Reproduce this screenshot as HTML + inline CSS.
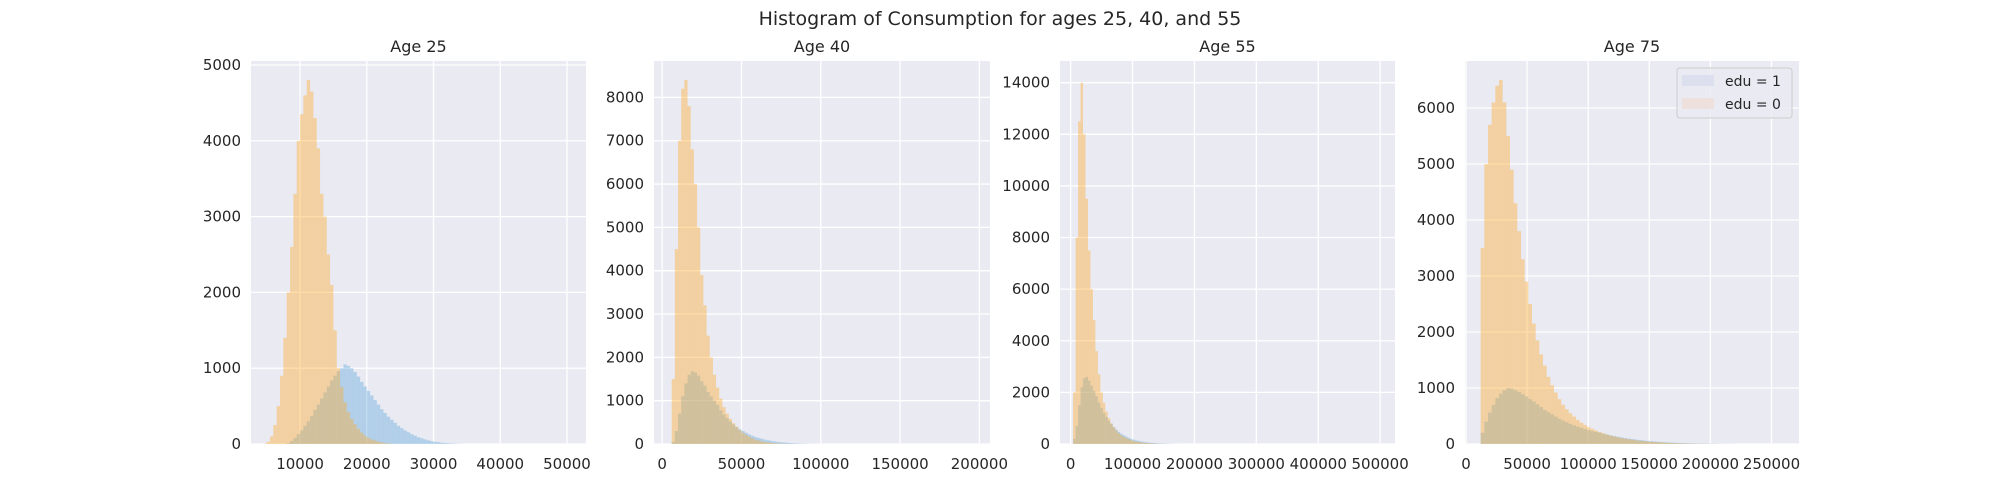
<!DOCTYPE html>
<html><head><meta charset="utf-8">
<style>
html,body{margin:0;padding:0;background:#fff;}
svg{display:block;font-family:"DejaVu Sans","Liberation Sans",sans-serif;}
</style></head>
<body>
<svg id="chart" width="2000" height="500">
<text x="1000" y="25" text-anchor="middle" font-size="19" fill="#262626">Histogram of Consumption for ages 25, 40, and 55</text>
</svg>
<script>
// Panel 1 (Age 25)
const p1OrangeStart = 4000, p1OrangeStep = 500;
const p1Orange = [0,5,30,100,250,500,900,1400,2000,2600,3300,4000,4350,4600,4800,4650,4300,3900,3300,3000,2500,2100,1500,1000,750,550,420,330,260,200,150,110,80,60,45,30,20,12,6,3];
const p1BlueStart = 8000, p1BlueStep = 500;
const p1Blue = [10,40,80,130,180,240,300,370,450,520,600,680,760,840,900,960,1000,1050,1030,1000,950,890,820,760,700,640,580,520,460,410,360,320,280,240,210,180,155,130,110,90,75,60,48,38,30,24,18,14,10,7,5,3,2];
const p1XTicks = [10000,20000,30000,40000,50000];
const p1YTicks = [0,1000,2000,3000,4000,5000];
// Panel 2 (Age 40)
const p2OrangeStart = 4000, p2OrangeStep = 2000;
const p2Orange = [0,1500,4500,7000,8200,8400,7800,6800,6000,5000,3900,3200,2500,2000,1600,1300,1050,850,700,580,480,400,320,260,210,170,130,100,80,60,45,35,25,18,12,8,5,3];
const p2BlueStart = 6000, p2BlueStep = 2000;
const p2Blue = [50,300,700,1100,1400,1600,1680,1650,1580,1450,1350,1200,1100,1000,900,780,680,600,520,450,390,340,300,260,220,190,160,140,120,100,85,72,60,50,42,35,28,22,18,14,10,8,6,4,3,2];
const p2XTicks = [0,50000,100000,150000,200000];
const p2YTicks = [0,1000,2000,3000,4000,5000,6000,7000,8000];
// Panel 3 (Age 55)
const p3OrangeStart = 4000, p3OrangeStep = 4000;
const p3Orange = [2000,8000,12500,14000,12000,9500,7500,6000,4800,3600,2700,2000,1600,1250,1000,800,650,520,420,340,280,230,190,150,120,95,75,60,48,38,30,22,16,12,8,5,3];
const p3BlueStart = 4000, p3BlueStep = 4000;
const p3Blue = [200,700,1500,2200,2550,2600,2450,2250,2050,1850,1600,1400,1200,1050,900,780,660,560,470,400,340,290,240,200,170,140,120,100,85,70,58,48,40,33,27,22,18,14,11,8,6,4,3,2];
const p3XTicks = [0,100000,200000,300000,400000,500000];
const p3YTicks = [0,2000,4000,6000,8000,10000,12000,14000];
// Panel 4 (Age 75)
const p4OrangeStart = 9000, p4OrangeStep = 3000;
const p4Orange = [0,3500,5000,5700,6100,6400,6500,6100,5500,4900,4300,3800,3300,2900,2500,2150,1850,1600,1400,1200,1050,920,800,700,620,550,490,430,380,340,300,270,240,215,190,170,150,135,120,105,95,85,75,66,58,52,46,40,35,30,26,22,19,16,13,11,9,7,6,5,4,3,3,2,2,1];
const p4BlueStart = 9000, p4BlueStep = 3000;
const p4Blue = [0,200,400,560,700,820,900,960,1000,990,960,930,890,850,800,760,710,660,610,570,530,490,450,420,390,360,335,310,290,270,250,230,215,200,185,170,155,140,128,116,105,95,86,78,70,63,56,50,45,40,35,31,27,24,21,18,16,14,12,10,9,8,7,6,5,4,3,3,2,2,1];
const p4XTicks = [0,50000,100000,150000,200000,250000];
const p4YTicks = [0,1000,2000,3000,4000,5000,6000];

const NS = "http://www.w3.org/2000/svg";
const svg = document.getElementById('chart');
function mk(tag, attrs, parent){
  const e = document.createElementNS(NS, tag);
  for (const k in attrs) e.setAttribute(k, attrs[k]);
  (parent||svg).appendChild(e);
  return e;
}
const panels = [
  {title:"Age 25", L:251, R:586, T:61, B:444, x0:2650, x1:52850, y0:0, y1:5053,
   xt:p1XTicks, yt:p1YTicks, o:[p1Orange,p1OrangeStart,p1OrangeStep], b:[p1Blue,p1BlueStart,p1BlueStep]},
  {title:"Age 40", L:654, R:990, T:61, B:444, x0:-5150, x1:206700, y0:0, y1:8840,
   xt:p2XTicks, yt:p2YTicks, o:[p2Orange,p2OrangeStart,p2OrangeStep], b:[p2Blue,p2BlueStart,p2BlueStep]},
  {title:"Age 55", L:1060, R:1395, T:61, B:444, x0:-17200, x1:524000, y0:0, y1:14840,
   xt:p3XTicks, yt:p3YTicks, o:[p3Orange,p3OrangeStart,p3OrangeStep], b:[p3Blue,p3BlueStart,p3BlueStep]},
  {title:"Age 75", L:1465, R:1799, T:61, B:444, x0:-820, x1:272500, y0:0, y1:6840,
   xt:p4XTicks, yt:p4YTicks, o:[p4Orange,p4OrangeStart,p4OrangeStep], b:[p4Blue,p4BlueStart,p4BlueStep]}
];
panels.forEach((p, i) => {
  const g = mk('g', {});
  
  
  const sx = v => p.L + (v - p.x0) / (p.x1 - p.x0) * (p.R - p.L);
  const sy = v => p.B - (v - p.y0) / (p.y1 - p.y0) * (p.B - p.T);
  const bg = mk('rect', {x:p.L, y:p.T, width:p.R-p.L, height:p.B-p.T, fill:'#eaeaf2'}, g);
  
  
  p.xt.forEach(t => {
    const x = sx(t);
    const gl = mk('line', {x1:x, x2:x, y1:p.T, y2:p.B, stroke:'#fff', 'stroke-width':1.3}, g);
    
    
    const tl = mk('text', {x:x, y:p.B+25, 'text-anchor':'middle', 'font-size':15, fill:'#262626'}, g);
    
    
    tl.textContent = t;
  });
  p.yt.forEach(t => {
    const y = sy(t);
    const gl = mk('line', {x1:p.L, x2:p.R, y1:y, y2:y, stroke:'#fff', 'stroke-width':1.3}, g);
    
    
    const tl = mk('text', {x:p.L-10, y:y+5, 'text-anchor':'end', 'font-size':15, fill:'#262626'}, g);
    
    
    tl.textContent = t;
  });
  const drawSeries = (arr, start, step, color, name) => {
    const sg = mk('g', {fill:color}, g);
    
    
    arr.forEach((v, k) => {
      const xa = sx(start + k*step), xb = sx(start + (k+1)*step);
      const r = mk('rect', {x:xa, y:sy(v), width:Math.max(0.5, xb-xa), height:Math.max(0, p.B - sy(v))}, sg);
      
      
    });
  };
  drawSeries(p.b[0], p.b[1], p.b[2], 'rgba(110,175,225,0.45)', 'edu-1-histogram');
  drawSeries(p.o[0], p.o[1], p.o[2], 'rgba(255,170,40,0.4)', 'edu-0-histogram');
  const tt = mk('text', {x:(p.L+p.R)/2, y:52, 'text-anchor':'middle', 'font-size':16, fill:'#262626'}, g);
  
  
  tt.textContent = p.title;
});
// legend
const lg = mk('g', {});


mk('rect', {x:1677, y:68, width:115, height:50, rx:3, fill:'rgba(234,234,242,0.8)', stroke:'#cccccc', 'stroke-width':1}, lg);
const e1 = mk('rect', {x:1682, y:75, width:32, height:11, fill:'#dcdfee'}, lg);


const t1 = mk('text', {x:1725, y:86, 'font-size':14, fill:'#262626'}, lg);


t1.textContent = 'edu = 1';
const e2 = mk('rect', {x:1682, y:98, width:32, height:11, fill:'#eee0dc'}, lg);


const t2 = mk('text', {x:1725, y:109, 'font-size':14, fill:'#262626'}, lg);


t2.textContent = 'edu = 0';
</script>
</body></html>
